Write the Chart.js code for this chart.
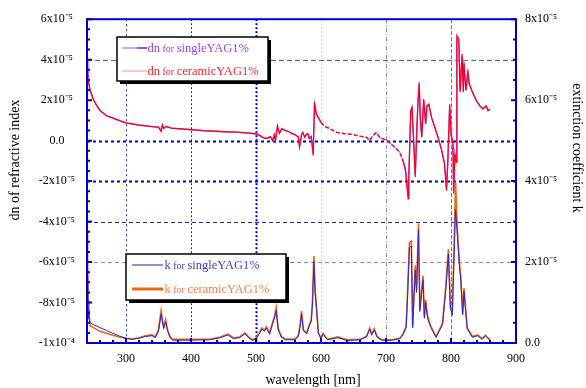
<!DOCTYPE html>
<html><head><meta charset="utf-8">
<script src="https://cdn.jsdelivr.net/npm/chart.js@4"></script>
<style>html,body{margin:0;padding:0;background:#fff}#wrap{width:586px;height:388px}</style>
</head><body><div id="wrap"><canvas id="c" width="586" height="388"></canvas></div>
<script>
// ---- data (dn and k in units of 1e-5) ----
const wavelengthDn = [240,241,242,245,250,255,260,270,280,290,300,320,340,350,354,356,358,362,370,380,400,420,450,470,490,500,505,510,515,520,522,526,528,530,533,536,540,545,550,555,560,565,567,570,572,575,578,580,582,585,588,590,593,596,600,606,613,624,635,649,660,670,675,680,685,690,700,711,721,726,730,734,735,738,740,743,745,747,749,751,753,755,758,761,763,766,770,775,780,785,790,793,795,798,800,803,804,806,808,809,812,814,817,819,820,823,826,828,833,839,844,849,854,857,860];
const dnCeramic = [4.05,3.55,2.96,2.47,2.02,1.73,1.48,1.23,1.11,0.99,0.88,0.77,0.69,0.66,0.45,0.78,0.60,0.70,0.62,0.59,0.54,0.49,0.44,0.42,0.37,0.33,0.27,0.16,0.10,0.15,0.20,-0.02,0.30,0.00,0.74,0.35,0.60,0.50,0.45,0.35,0.30,0.18,-0.33,0.30,0.41,0.16,0.33,0.33,0.10,0.20,-0.74,1.89,1.30,1.15,0.90,0.70,0.60,0.41,0.35,0.30,0.22,0.16,0.00,0.25,0.41,0.16,0.03,-0.25,-0.58,-0.99,-1.48,-2.88,-1.98,1.48,1.65,-0.33,-1.81,0.16,1.81,2.88,1.00,0.16,2.06,0.82,1.73,1.81,1.15,0.66,0.16,-0.41,-1.15,-2.47,-1.15,1.81,0.33,-0.16,-2.63,-0.66,-1.07,5.19,5.02,2.39,4.28,2.39,3.87,2.47,3.46,2.80,2.39,1.98,1.73,1.56,1.73,1.48,1.56];
const dnSingle  = [4.00,3.50,2.95,2.45,2.02,1.74,1.49,1.24,1.11,0.99,0.88,0.77,0.69,0.66,0.50,0.74,0.62,0.69,0.62,0.59,0.54,0.49,0.44,0.42,0.37,0.33,0.27,0.17,0.11,0.15,0.19,0.02,0.27,0.03,0.68,0.38,0.58,0.50,0.45,0.35,0.30,0.18,-0.25,0.28,0.38,0.18,0.32,0.32,0.12,0.20,-0.62,1.80,1.28,1.13,0.90,0.70,0.60,0.41,0.35,0.30,0.22,0.16,0.02,0.25,0.39,0.17,0.04,-0.24,-0.56,-0.96,-1.42,-2.70,-1.90,1.40,1.58,-0.28,-1.70,0.18,1.72,2.75,1.00,0.20,1.98,0.84,1.68,1.76,1.15,0.66,0.18,-0.38,-1.10,-2.35,-1.10,1.72,0.35,-0.14,-2.50,-0.62,-1.00,5.00,4.90,2.45,4.15,2.45,3.80,2.50,3.40,2.80,2.40,1.98,1.73,1.58,1.70,1.50,1.56];
const wavelengthK = [240,241,242,243,245,250,255,260,270,280,290,300,310,320,330,340,345,350,354,356,358,361,364,368,372,400,430,445,457,465,475,483,490,495,500,505,509,513,516,521,526,529,531,534,539,545,560,565,568,570,573,578,582,585,587,589,591,593,596,600,603,610,626,640,660,670,675,678,682,686,692,700,710,721,726,731,733,736,739,741,745,747,750,752,757,759,761,764,769,777,782,787,792,796,799,802,804,807,810,813,815,818,820,823,825,833,841,848,853,860];
const kSingle  = [1.60,1.30,0.80,0.60,0.50,0.45,0.42,0.38,0.31,0.24,0.17,0.12,0.09,0.12,0.16,0.18,0.13,0.28,0.72,0.52,0.36,0.52,0.30,0.13,0.07,0.07,0.08,0.13,0.20,0.11,0.13,0.23,0.11,0.06,0.11,0.22,0.34,0.29,0.37,0.22,0.50,0.64,0.80,0.34,0.14,0.08,0.08,0.16,0.42,0.72,0.30,0.23,0.42,0.53,1.00,2.02,1.24,0.85,0.23,0.11,0.22,0.08,0.13,0.06,0.08,0.15,0.34,0.20,0.32,0.15,0.08,0.06,0.07,0.10,0.20,0.38,1.08,2.35,2.40,0.38,1.80,1.25,2.80,0.78,1.56,0.61,1.00,0.61,0.38,0.14,0.30,0.46,1.32,2.20,0.85,0.70,1.80,3.30,2.60,1.88,1.56,0.70,1.28,0.70,0.35,0.14,0.18,0.09,0.18,0.07];
const kCeramic = [2.78,2.04,1.05,0.73,0.42,0.38,0.33,0.29,0.24,0.19,0.15,0.11,0.10,0.13,0.18,0.20,0.15,0.33,0.80,0.58,0.40,0.58,0.32,0.15,0.09,0.09,0.10,0.15,0.22,0.13,0.15,0.25,0.13,0.08,0.12,0.25,0.37,0.32,0.40,0.25,0.53,0.70,0.88,0.37,0.16,0.10,0.10,0.18,0.45,0.79,0.32,0.25,0.45,0.57,1.08,2.15,1.32,0.90,0.25,0.12,0.24,0.09,0.15,0.08,0.09,0.17,0.37,0.22,0.35,0.17,0.09,0.08,0.08,0.12,0.22,0.42,1.16,2.48,2.52,0.42,1.92,1.32,2.96,0.84,1.66,0.66,1.07,0.66,0.41,0.16,0.32,0.50,1.40,2.32,0.91,0.75,1.92,3.95,2.75,2.00,1.66,0.75,1.36,0.75,0.37,0.16,0.20,0.11,0.19,0.08];

// ---- ticks / labels ----
const xTicks = [300,400,500,600,700,800,900];
const dnTicks = [-10,-8,-6,-4,-2,0,2,4,6];
const dnTickLabels = ['-1x10\u207B\u2074','-8x10\u207B\u2075','-6x10\u207B\u2075','-4x10\u207B\u2075','-2x10\u207B\u2075','0.0','2x10\u207B\u2075','4x10\u207B\u2075','6x10\u207B\u2075'];
const kTicks = [0,2,4,6,8];
const kTickLabels = ['0.0','2x10\u207B\u2075','4x10\u207B\u2075','6x10\u207B\u2075','8x10\u207B\u2075'];
const seriesNames = ['dn for singleYAG1%','dn for ceramicYAG1%','k for singleYAG1%','k for ceramicYAG1%'];
const xTitle = 'wavelength [nm]';
const dnTitle = 'dn of refractive index';
const kTitle = 'extinction coefficient k';

const FONT = '"Liberation Serif", "Times New Roman", serif';
const BLUE = '#0000cc';
const pts = (xs, ys) => xs.map((x, i) => ({x, y: ys[i]}));

const gridStyles = {
  x: [
    {v:300, c:'#3030cc', w:1, d:[2,3]},
    {v:400, c:'#2020cc', w:1, d:[2,2]},
    {v:500, c:'#0000cc', w:2, d:[2,2]},
    {v:600, c:'#d0d0ea', w:1, d:[2,2]},
    {v:700, c:'#8888c8', w:1, d:[4,2,1,2]},
    {v:800, c:'#6a6ae0', w:1, d:[4,2]}
  ],
  y: [
    {v:4, c:'#6060cc', w:1, d:[5,3]},
    {v:0, c:'#0000cc', w:2, d:[3,3]},
    {v:-2, c:'#0000cc', w:2, d:[3,3]},
    {v:-4, c:'#2020cc', w:1, d:[4,3]},
    {v:-6, c:'#8888cc', w:1, d:[4,3]}
  ]
};

const gridPlugin = {
  id: 'grid',
  beforeDatasetsDraw(chart) {
    const {ctx, chartArea: a, scales} = chart;
    ctx.save();
    gridStyles.x.forEach(g => {
      const px = Math.round(scales.x.getPixelForValue(g.v)) + 0.5;
      ctx.strokeStyle = g.c; ctx.lineWidth = g.w; ctx.setLineDash(g.d);
      ctx.beginPath(); ctx.moveTo(px, a.top); ctx.lineTo(px, a.bottom); ctx.stroke();
    });
    gridStyles.y.forEach(g => {
      const py = Math.round(scales.yDn.getPixelForValue(g.v)) + 0.5;
      ctx.strokeStyle = g.c; ctx.lineWidth = g.w; ctx.setLineDash(g.d);
      ctx.beginPath(); ctx.moveTo(a.left, py); ctx.lineTo(a.right, py); ctx.stroke();
    });
    ctx.restore();
  },
  afterDatasetsDraw(chart) {
    const {ctx, chartArea: a, scales} = chart;
    ctx.save();
    ctx.setLineDash([]);
    ctx.strokeStyle = BLUE; ctx.lineWidth = 2;
    ctx.strokeRect(a.left, a.top, a.right - a.left, a.bottom - a.top);
    ctx.lineWidth = 2;
    ctx.beginPath();
    for (let v = 240; v <= 900; v += 20) {
      const px = scales.x.getPixelForValue(v);
      const L = v % 100 === 0 ? 5 : 3;
      ctx.moveTo(px, a.bottom); ctx.lineTo(px, a.bottom - L);
    }
    for (let v = -10; v <= 6; v += 0.5) {
      const py = scales.yDn.getPixelForValue(v);
      const L = Math.abs(v % 2) < 1e-9 ? 5 : 3;
      ctx.moveTo(a.left, py); ctx.lineTo(a.left + L, py);
    }
    for (let v = 0; v <= 8; v += 0.5) {
      const py = scales.yK.getPixelForValue(v);
      const L = Math.abs(v % 2) < 1e-9 ? 5 : 3;
      ctx.moveTo(a.right, py); ctx.lineTo(a.right - L, py);
    }
    ctx.stroke();
    ctx.restore();
  },
  afterDraw(chart) {
    const {ctx} = chart;
    ctx.save();
    ctx.fillStyle = '#000';
    ctx.font = '14px ' + FONT;
    ctx.textAlign = 'center'; ctx.textBaseline = 'middle';
    ctx.fillText(xTitle, 313, 380);
    ctx.save(); ctx.translate(15, 160); ctx.rotate(-Math.PI / 2); ctx.fillText(dnTitle, 0, 0); ctx.restore();
    ctx.save(); ctx.translate(577, 148); ctx.rotate(Math.PI / 2); ctx.fillText(kTitle, 0, 0); ctx.restore();

    const box = (x, y, w, h) => {
      ctx.fillStyle = '#000';
      ctx.fillRect(x + 3, y + 3, w, h);
      ctx.fillStyle = '#fff';
      ctx.fillRect(x, y, w, h);
      ctx.strokeStyle = '#000'; ctx.lineWidth = 1.5;
      ctx.strokeRect(x, y, w, h);
    };
    // draw "<sym> for <type>YAG1%" as a run with a smaller "for"
    const label = (name, x, y, color) => {
      const m = name.match(/^(\S+)( for )(.+)$/);
      const runs = [{t: m[1], s: 12.5}, {t: m[2], s: 10}, {t: m[3], s: 12.5}];
      ctx.fillStyle = color; ctx.textAlign = 'left'; ctx.textBaseline = 'alphabetic';
      runs.forEach(r => { ctx.font = r.s + 'px ' + FONT; ctx.fillText(r.t, x, y); x += ctx.measureText(r.t).width; });
    };
    // legend 1
    box(117, 37, 151, 44);
    ctx.strokeStyle = '#a050e0'; ctx.lineWidth = 1;
    ctx.beginPath(); ctx.moveTo(122, 48); ctx.lineTo(147, 48); ctx.stroke();
    ctx.lineWidth = 2; ctx.beginPath(); ctx.moveTo(137, 48); ctx.lineTo(147, 48); ctx.stroke();
    label(seriesNames[0], 147.5, 52, '#a040dd');
    ctx.strokeStyle = '#ff9090'; ctx.lineWidth = 1;
    ctx.beginPath(); ctx.moveTo(122, 71); ctx.lineTo(147, 71); ctx.stroke();
    label(seriesNames[1], 147.5, 75, '#ff2030');
    // legend 2
    box(126, 254, 160, 46);
    ctx.strokeStyle = '#2020a0'; ctx.lineWidth = 1;
    ctx.beginPath(); ctx.moveTo(132, 265); ctx.lineTo(163, 265); ctx.stroke();
    label(seriesNames[2], 164.5, 269, '#3a3ae0');
    ctx.strokeStyle = '#f06414'; ctx.lineWidth = 3;
    ctx.beginPath(); ctx.moveTo(132, 289); ctx.lineTo(163, 289); ctx.stroke();
    label(seriesNames[3], 164.5, 293, '#f0804c');
    ctx.restore();
  }
};

const tickFont = {family: FONT, size: 12};
const common = {grid: {display: false, drawTicks: false}, border: {display: false}};
// the 600-725 nm stretch of the dn traces is drawn broken in the original
const dnSegment = {borderDash: c => (c.p0.parsed.x >= 600 && c.p1.parsed.x <= 726) ? [4, 2] : undefined};

new Chart(document.getElementById('c'), {
  type: 'line',
  data: {
    datasets: [
      {label: seriesNames[1], data: pts(wavelengthDn, dnCeramic), yAxisID: 'yDn', borderColor: '#ff0020', borderWidth: 1.2, order: 1, segment: dnSegment},
      {label: seriesNames[0], data: pts(wavelengthDn, dnSingle), yAxisID: 'yDn', borderColor: '#a050e8', borderWidth: 1.4, order: 2, segment: dnSegment},
      {label: seriesNames[2], data: pts(wavelengthK, kSingle), yAxisID: 'yK', borderColor: '#2828d0', borderWidth: 1, order: 3},
      {label: seriesNames[3], data: pts(wavelengthK, kCeramic), yAxisID: 'yK', borderColor: '#f06414', borderWidth: 1.6, order: 4}
    ]
  },
  options: {
    responsive: false, animation: false, devicePixelRatio: 1,
    elements: {point: {radius: 0}, line: {tension: 0, fill: false}},
    layout: {padding: {top: 19, left: 0, right: 0, bottom: 0}},
    plugins: {legend: {display: false}, tooltip: {enabled: false}},
    scales: {
      x: Object.assign({}, common, {
        type: 'linear', position: 'bottom', min: 240, max: 900,
        afterBuildTicks: s => { s.ticks = xTicks.map(v => ({value: v})); },
        afterFit: s => { s.height = 45; },
        ticks: {font: tickFont, color: '#000', padding: 9, maxRotation: 0, autoSkip: false, callback: v => String(v)}
      }),
      yDn: Object.assign({}, common, {
        type: 'linear', position: 'left', min: -10, max: 6,
        afterBuildTicks: s => { s.ticks = dnTicks.map(v => ({value: v})); },
        afterFit: s => { s.width = 87; },
        ticks: {font: tickFont, color: '#000', padding: 12, crossAlign: 'center', autoSkip: false, callback: v => dnTickLabels[dnTicks.indexOf(v)]}
      }),
      yK: Object.assign({}, common, {
        type: 'linear', position: 'right', min: 0, max: 8,
        afterBuildTicks: s => { s.ticks = kTicks.map(v => ({value: v})); },
        afterFit: s => { s.width = 70; },
        ticks: {font: tickFont, color: '#000', padding: 9, autoSkip: false, callback: v => kTickLabels[kTicks.indexOf(v)]}
      })
    }
  },
  plugins: [gridPlugin]
});
</script>
</body></html>
